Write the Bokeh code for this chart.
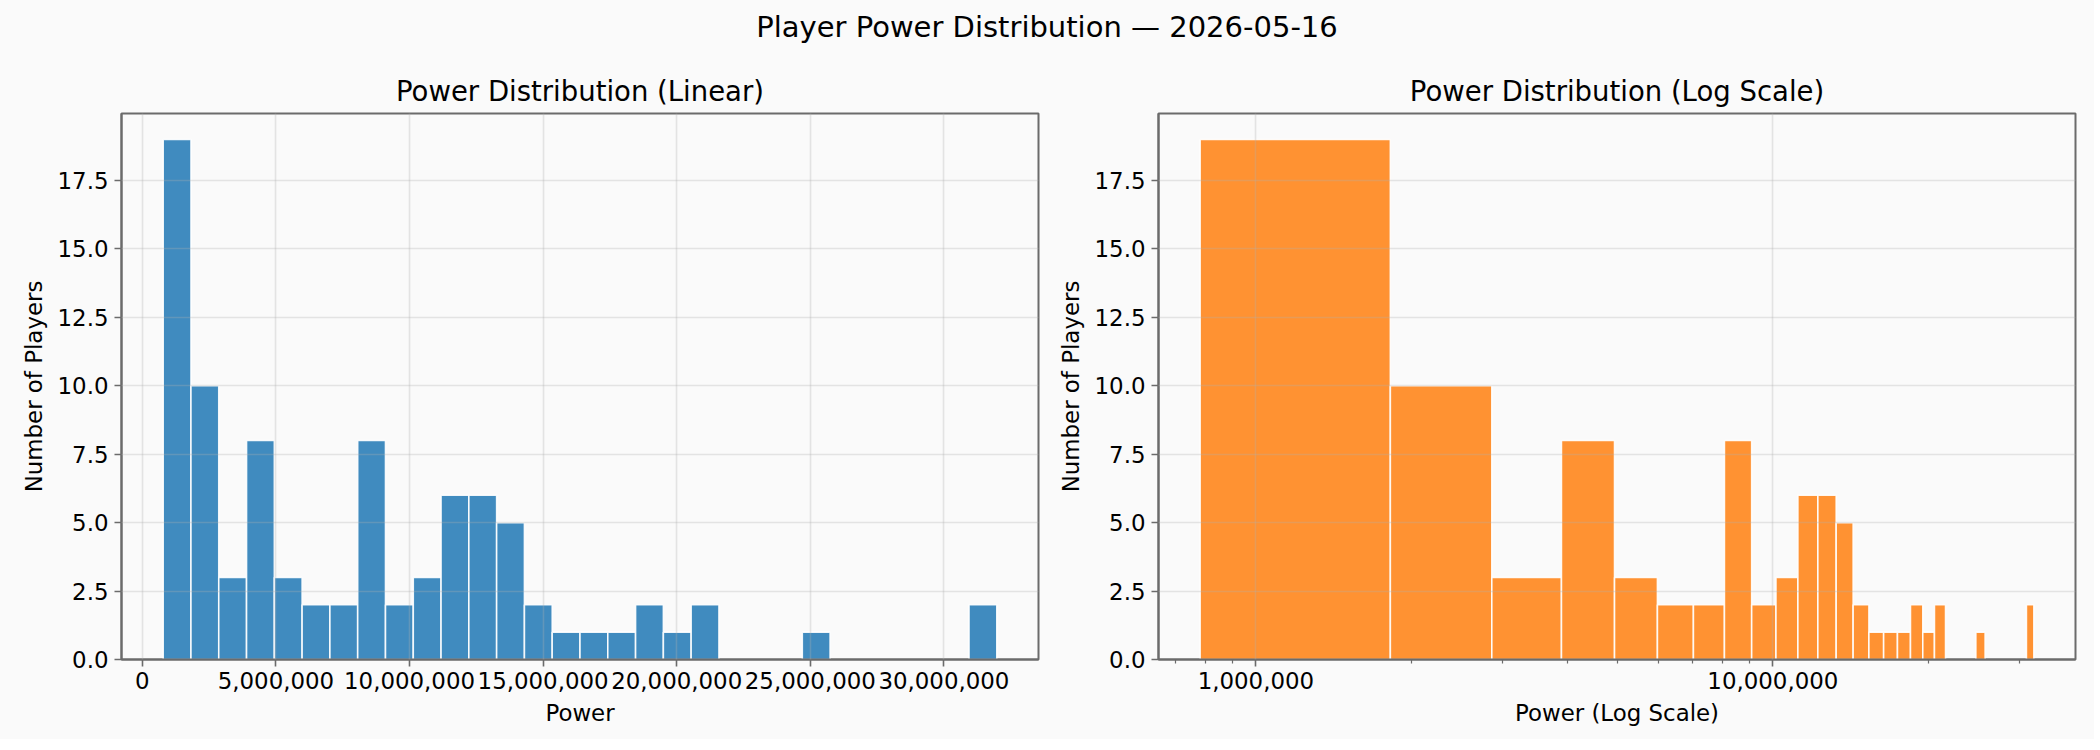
from bokeh.plotting import figure
from bokeh.models import Range1d, FixedTicker, NumeralTickFormatter, Div, ColumnDataSource
from bokeh.layouts import column, row
from bokeh.embed import file_html
from bokeh.resources import INLINE

# ---- data ----
suptitle = "Player Power Distribution \u2014 2026-05-16"
title_linear = "Power Distribution (Linear)"
title_log = "Power Distribution (Log Scale)"
xlabel_linear = "Power"
xlabel_log = "Power (Log Scale)"
ylabel = "Number of Players"

bin_edges = [780000, 1820000, 2860000, 3900000, 4940000, 5980000, 7020000, 8060000,
             9100000, 10140000, 11180000, 12220000, 13260000, 14300000, 15340000,
             16380000, 17420000, 18460000, 19500000, 20540000, 21580000, 22620000,
             23660000, 24700000, 25740000, 26780000, 27820000, 28860000, 29900000,
             30940000, 31980000]
counts = [19, 10, 3, 8, 3, 2, 2, 8, 2, 3, 6, 6, 5, 2, 1, 1, 1, 2, 1, 2,
          0, 0, 0, 1, 0, 0, 0, 0, 0, 2]

linear_ticks = [0, 5000000, 10000000, 15000000, 20000000, 25000000, 30000000]
log_major_ticks = [1000000, 10000000]
log_minor_ticks = [700000, 800000, 900000, 2000000, 3000000, 4000000, 5000000,
                   6000000, 7000000, 8000000, 9000000, 20000000, 30000000]
y_ticks = [0, 2.5, 5, 7.5, 10, 12.5, 15, 17.5]

FONT = "DejaVu Sans"
BG = "#fafafa"
SPINE = "#6b6b6b"

lefts = [bin_edges[i] for i in range(len(counts)) if counts[i] > 0]
rights = [bin_edges[i + 1] for i in range(len(counts)) if counts[i] > 0]
tops = [c for c in counts if c > 0]
src = ColumnDataSource(dict(left=lefts, right=rights, top=tops))

ymax = max(counts) * 1.05


def style(p, title):
    p.title.text = title
    p.title.text_font = FONT
    p.title.text_font_size = "27.5px"
    p.title.text_font_style = "normal"
    p.title.align = "center"
    p.title.text_color = "black"
    p.title.standoff = 13
    p.background_fill_color = BG
    p.border_fill_color = BG
    p.outline_line_color = SPINE
    p.outline_line_width = 2
    p.outline_line_alpha = 1
    for ax in p.axis:
        ax.axis_line_color = SPINE
        ax.axis_line_width = 2
        ax.major_tick_line_color = SPINE
        ax.major_tick_line_width = 1.6
        ax.minor_tick_line_color = SPINE
        ax.minor_tick_line_width = 1.2
        ax.major_tick_out = 7
        ax.major_tick_in = 0
        ax.minor_tick_out = 4
        ax.minor_tick_in = 0
        ax.major_label_text_font = FONT
        ax.major_label_text_font_size = "22.9px"
        ax.major_label_text_color = "black"
        ax.major_label_standoff = 6
        ax.axis_label_text_font = FONT
        ax.axis_label_text_font_size = "22.9px"
        ax.axis_label_text_font_style = "normal"
        ax.axis_label_text_color = "black"
        ax.axis_label_standoff = 8
    p.xaxis.major_label_standoff = 5
    for g in p.grid:
        g.grid_line_color = "#b0b0b0"
        g.grid_line_alpha = 0.3
        g.grid_line_width = 1.6
        g.level = "annotation"
    p.yaxis.ticker = FixedTicker(ticks=y_ticks)
    p.yaxis.formatter = NumeralTickFormatter(format="0.0")
    p.yaxis.minor_tick_line_color = None
    p.yaxis.axis_label = ylabel


# ---- left: linear ----
p1 = figure(width=1045, height=677, output_backend="svg", toolbar_location=None,
            x_range=Range1d(-780000, 33540000), y_range=Range1d(0, ymax),
            min_border_left=121, min_border_right=7, min_border_top=51, min_border_bottom=80)
p1.quad(left="left", right="right", bottom=0, top="top", source=src,
        fill_color="#1f77b4", fill_alpha=0.85, line_color="white", line_alpha=0.9, line_width=1.6)
style(p1, title_linear)
p1.xaxis.ticker = FixedTicker(ticks=linear_ticks)
p1.xaxis.formatter = NumeralTickFormatter(format="0,0")
p1.xaxis.minor_tick_line_color = None
p1.xaxis.axis_label = xlabel_linear

# ---- right: log ----
p2 = figure(width=1039, height=677, output_backend="svg", toolbar_location=None,
            x_axis_type="log", x_range=Range1d(648000, 38500000), y_range=Range1d(0, ymax),
            min_border_left=113, min_border_right=9, min_border_top=51, min_border_bottom=80)
p2.quad(left="left", right="right", bottom=0, top="top", source=src,
        fill_color="#ff7f0e", fill_alpha=0.85, line_color="white", line_alpha=0.9, line_width=1.6)
style(p2, title_log)
p2.xaxis.ticker = FixedTicker(ticks=log_major_ticks, minor_ticks=log_minor_ticks)
p2.xaxis.formatter = NumeralTickFormatter(format="0,0")
p2.xaxis.axis_label = xlabel_log

head = Div(text=suptitle, width=2084, height=52,
           styles={"font-family": FONT, "font-size": "29px", "text-align": "center",
                   "line-height": "44px", "color": "black", "background-color": BG})

layout = column(head, row(p1, p2, styles={"background-color": BG}),
                styles={"background-color": BG})

with open("out.html", "w") as f:
    f.write(file_html(layout, INLINE))
